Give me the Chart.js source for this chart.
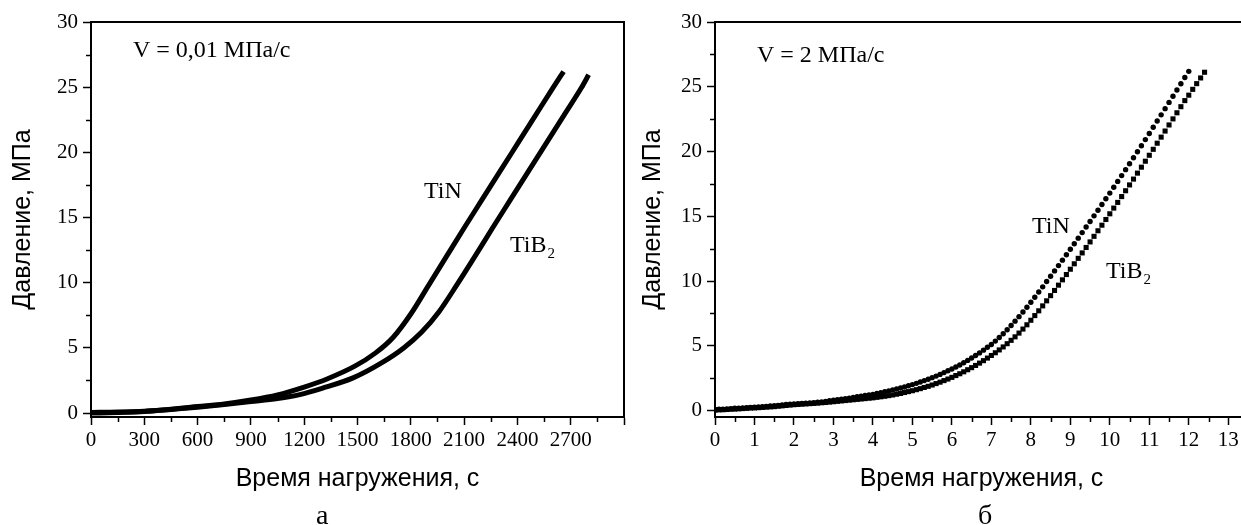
<!DOCTYPE html>
<html><head><meta charset="utf-8">
<script src="https://cdn.jsdelivr.net/npm/chart.js@4.4.0/dist/chart.umd.min.js"></script>
<style>
html,body{margin:0;padding:0;background:#fff;width:1241px;height:525px;overflow:hidden;}
#ca{position:absolute;left:0;top:0;}
#cb{position:absolute;left:630px;top:0;}
</style></head><body>
<canvas id="ca" width="630" height="525"></canvas>
<canvas id="cb" width="622" height="525"></canvas>
<script>
// ---- Panel а: V = 0,01 MPa/s ----
const tinTimeA  = [0,150,300,450,600,750,900,1050,1200,1325,1485,1600,1700,1800,1900,2000,2100,2200,2300,2400,2500,2600,2660];
const tinPressA = [0.05,0.08,0.15,0.3,0.5,0.7,1.0,1.4,2.0,2.6,3.6,4.6,5.8,7.6,9.8,12.0,14.2,16.35,18.5,20.65,22.8,24.95,26.2];
const tib2TimeA  = [0,150,300,450,600,750,900,1050,1175,1300,1475,1635,1760,1860,1960,2060,2160,2260,2360,2460,2560,2660,2760,2801];
const tib2PressA = [0.0,0.05,0.12,0.28,0.45,0.65,0.88,1.12,1.42,1.9,2.7,3.85,5.0,6.2,7.8,9.85,12.0,14.2,16.35,18.5,20.65,22.8,24.95,25.95];
const xTicksA = [0,300,600,900,1200,1500,1800,2100,2400,2700];

// ---- Panel б: V = 2 MPa/s ----
const tinTimeB = [0,0.1,0.2,0.3,0.4,0.5,0.6,0.7,0.8,0.9,
 1,1.1,1.2,1.3,1.4,1.5,1.6,1.7,1.8,1.9,
 2,2.1,2.2,2.3,2.4,2.5,2.6,2.7,2.8,2.9,
 3,3.1,3.2,3.3,3.4,3.5,3.6,3.7,3.8,3.9,
 4,4.1,4.2,4.3,4.4,4.5,4.6,4.7,4.8,4.9,
 5,5.1,5.2,5.3,5.4,5.5,5.6,5.7,5.8,5.9,
 6,6.1,6.2,6.3,6.4,6.5,6.6,6.7,6.8,6.9,
 7,7.1,7.2,7.3,7.4,7.5,7.6,7.7,7.8,7.9,
 8,8.1,8.2,8.3,8.4,8.5,8.6,8.7,8.8,8.9,
 9,9.1,9.2,9.3,9.4,9.5,9.6,9.7,9.8,9.9,
 10,10.1,10.2,10.3,10.4,10.5,10.6,10.7,10.8,10.9,
 11,11.1,11.2,11.3,11.4,11.5,11.6,11.7,11.8,11.9,
 12];
const tinPressB = [0.08,0.10,0.11,0.13,0.15,0.17,0.18,0.20,0.22,0.24,
 0.26,0.28,0.30,0.32,0.35,0.37,0.40,0.43,0.46,0.48,
 0.50,0.52,0.54,0.56,0.58,0.61,0.64,0.67,0.70,0.75,
 0.80,0.84,0.88,0.92,0.96,1.01,1.06,1.11,1.16,1.21,
 1.25,1.31,1.38,1.45,1.52,1.59,1.66,1.74,1.82,1.91,
 2.00,2.10,2.20,2.31,2.42,2.54,2.66,2.79,2.93,3.07,
 3.21,3.36,3.52,3.69,3.87,4.06,4.25,4.45,4.66,4.88,
 5.10,5.36,5.64,5.93,6.24,6.56,6.90,7.25,7.61,7.98,
 8.36,8.75,9.15,9.55,9.96,10.37,10.78,11.19,11.61,12.03,
 12.45,12.88,13.31,13.74,14.17,14.60,15.03,15.47,15.91,16.35,
 16.79,17.24,17.69,18.14,18.60,19.06,19.52,19.98,20.45,20.92,
 21.39,21.87,22.35,22.83,23.31,23.79,24.27,24.75,25.23,25.71,
 26.19];
const tib2TimeB = [0,0.1,0.2,0.3,0.4,0.5,0.6,0.7,0.8,0.9,
 1,1.1,1.2,1.3,1.4,1.5,1.6,1.7,1.8,1.9,
 2,2.1,2.2,2.3,2.4,2.5,2.6,2.7,2.8,2.9,
 3,3.1,3.2,3.3,3.4,3.5,3.6,3.7,3.8,3.9,
 4,4.1,4.2,4.3,4.4,4.5,4.6,4.7,4.8,4.9,
 5,5.1,5.2,5.3,5.4,5.5,5.6,5.7,5.8,5.9,
 6,6.1,6.2,6.3,6.4,6.5,6.6,6.7,6.8,6.9,
 7,7.1,7.2,7.3,7.4,7.5,7.6,7.7,7.8,7.9,
 8,8.1,8.2,8.3,8.4,8.5,8.6,8.7,8.8,8.9,
 9,9.1,9.2,9.3,9.4,9.5,9.6,9.7,9.8,9.9,
 10,10.1,10.2,10.3,10.4,10.5,10.6,10.7,10.8,10.9,
 11,11.1,11.2,11.3,11.4,11.5,11.6,11.7,11.8,11.9,
 12,12.1,12.2,12.3,12.4];
const tib2PressB = [0.03,0.05,0.06,0.08,0.10,0.11,0.13,0.15,0.17,0.19,
 0.20,0.22,0.24,0.26,0.28,0.30,0.33,0.36,0.39,0.42,
 0.45,0.47,0.49,0.51,0.53,0.55,0.57,0.60,0.62,0.65,
 0.68,0.71,0.74,0.77,0.80,0.83,0.86,0.89,0.92,0.95,
 0.98,1.02,1.06,1.10,1.15,1.20,1.26,1.32,1.39,1.46,
 1.53,1.61,1.69,1.78,1.87,1.97,2.08,2.19,2.31,2.43,
 2.56,2.70,2.84,2.99,3.15,3.31,3.48,3.66,3.85,4.05,
 4.25,4.46,4.68,4.91,5.16,5.42,5.69,5.98,6.29,6.62,
 6.97,7.33,7.70,8.08,8.47,8.87,9.27,9.68,10.09,10.50,
 10.91,11.33,11.75,12.17,12.59,13.02,13.45,13.88,14.31,14.75,
 15.19,15.63,16.07,16.52,16.97,17.42,17.87,18.33,18.79,19.25,
 19.71,20.17,20.64,21.11,21.58,22.05,22.52,22.99,23.46,23.93,
 24.35,24.80,25.24,25.68,26.12];
const yTicks = [0,5,10,15,20,25,30];

const SERIF = 'Liberation Serif';
const SANS = 'Liberation Sans';
const pts = (xs, ys) => xs.map((x, i) => ({x, y: ys[i]}));

const framePlugin = {
  id: 'frame',
  afterDraw(chart, args, o) {
    const {ctx, chartArea: a, scales} = chart;
    ctx.save();
    ctx.strokeStyle = '#000';
    ctx.lineWidth = 2;
    ctx.beginPath();
    ctx.moveTo(a.left, a.top); ctx.lineTo(a.right, a.top); ctx.lineTo(a.right, a.bottom);
    ctx.stroke();
    // minor ticks
    ctx.lineWidth = 1.5;
    const xs = scales.x, ys = scales.y;
    for (let k = 0; k * o.xMinor <= xs.max + 1e-9; k++) {
      if (k % 2 === 0) continue;
      const px = Math.round(xs.getPixelForValue(k * o.xMinor)) + 0.5;
      ctx.beginPath(); ctx.moveTo(px, a.bottom); ctx.lineTo(px, a.bottom + 5); ctx.stroke();
    }
    for (let k = 0; k * o.yMinor <= ys.max + 1e-9; k++) {
      if (k % 2 === 0) continue;
      const py = Math.round(ys.getPixelForValue(k * o.yMinor)) + 0.5;
      ctx.beginPath(); ctx.moveTo(a.left, py); ctx.lineTo(a.left - 5, py); ctx.stroke();
    }
    // annotations
    ctx.fillStyle = '#000';
    ctx.textBaseline = 'alphabetic';
    ctx.textAlign = 'left';
    for (const t of o.texts) {
      ctx.font = t.size + 'px "' + SERIF + '"';
      ctx.fillText(t.text, t.x, t.y);
      if (t.sub) {
        const w = ctx.measureText(t.text).width;
        ctx.font = Math.round(t.size * 0.62) + 'px "' + SERIF + '"';
        ctx.fillText(t.sub, t.x + w + 1, t.y + 6);
      }
    }
    ctx.restore();
  }
};

function axes(xMax, xStep, yMin, yWidth, xLabelCb) {
  const tickFont = {family: SERIF, size: 21};
  const titleFont = {family: SANS, size: 25};
  return {
    x: {
      type: 'linear', min: 0, max: xMax,
      ticks: {stepSize: xStep, includeBounds: false, font: tickFont, color: '#000', padding: 3, maxRotation: 0, autoSkip: false, callback: xLabelCb},
      grid: {drawOnChartArea: false, drawTicks: true, tickLength: 8, tickColor: '#000', tickWidth: 1.5},
      border: {display: true, color: '#000', width: 2},
      title: {display: true, text: 'Время нагружения, с', font: titleFont, color: '#000', padding: {top: 0, bottom: 31}},
      afterFit: s => { s.height = 108; }
    },
    y: {
      type: 'linear', min: yMin, max: 30,
      ticks: {stepSize: 5, includeBounds: false, font: tickFont, color: '#000', padding: 5, callback: v => String(v)},
      grid: {drawOnChartArea: false, drawTicks: true, tickLength: 8, tickColor: '#000', tickWidth: 1.5},
      border: {display: true, color: '#000', width: 2},
      title: {display: true, text: 'Давление, МПа', font: titleFont, color: '#000', padding: {top: 8, bottom: 0}},
      afterFit: s => { s.width = yWidth; }
    }
  };
}

new Chart(document.getElementById('ca'), {
  type: 'line',
  data: {
    datasets: [
      {label: 'TiN', data: pts(tinTimeA, tinPressA), borderColor: '#000', borderWidth: 5, pointRadius: 0, cubicInterpolationMode: 'monotone', fill: false},
      {label: 'TiB2', data: pts(tib2TimeA, tib2PressA), borderColor: '#000', borderWidth: 5, pointRadius: 0, cubicInterpolationMode: 'monotone', fill: false}
    ]
  },
  options: {
    responsive: false, animation: false, devicePixelRatio: 1,
    layout: {padding: {left: 0, right: 6, top: 22, bottom: 0}},
    scales: axes(3000, 300, -0.3, 91, v => (v >= 3000 ? '' : String(v))),
    plugins: {
      legend: {display: false}, tooltip: {enabled: false},
      frame: {xMinor: 150, yMinor: 2.5, texts: [
        {text: 'V = 0,01 МПа/с', x: 133, y: 57, size: 24},
        {text: 'TiN', x: 424, y: 198, size: 24},
        {text: 'TiB', sub: '2', x: 510, y: 252, size: 24},
        {text: 'а', x: 316, y: 524, size: 28}
      ]}
    }
  },
  plugins: [framePlugin]
});

new Chart(document.getElementById('cb'), {
  type: 'scatter',
  data: {
    datasets: [
      {label: 'TiN', data: pts(tinTimeB, tinPressB), pointStyle: 'circle', pointRadius: 2.7, backgroundColor: '#000', borderColor: '#000', borderWidth: 0, showLine: false},
      {label: 'TiB2', data: pts(tib2TimeB, tib2PressB), pointStyle: 'rect', pointRadius: 3.6, backgroundColor: '#000', borderColor: '#000', borderWidth: 0, showLine: false}
    ]
  },
  options: {
    responsive: false, animation: false, devicePixelRatio: 1,
    layout: {padding: {left: 0, right: 2, top: 22, bottom: 0}},
    scales: axes(13.5, 1, -0.5, 85, v => String(v)),
    plugins: {
      legend: {display: false}, tooltip: {enabled: false},
      frame: {xMinor: 0.5, yMinor: 2.5, texts: [
        {text: 'V = 2 МПа/с', x: 127, y: 62, size: 24},
        {text: 'TiN', x: 402, y: 233, size: 24},
        {text: 'TiB', sub: '2', x: 476, y: 278, size: 24},
        {text: 'б', x: 348, y: 524, size: 28}
      ]}
    }
  },
  plugins: [framePlugin]
});
</script>
</body></html>
